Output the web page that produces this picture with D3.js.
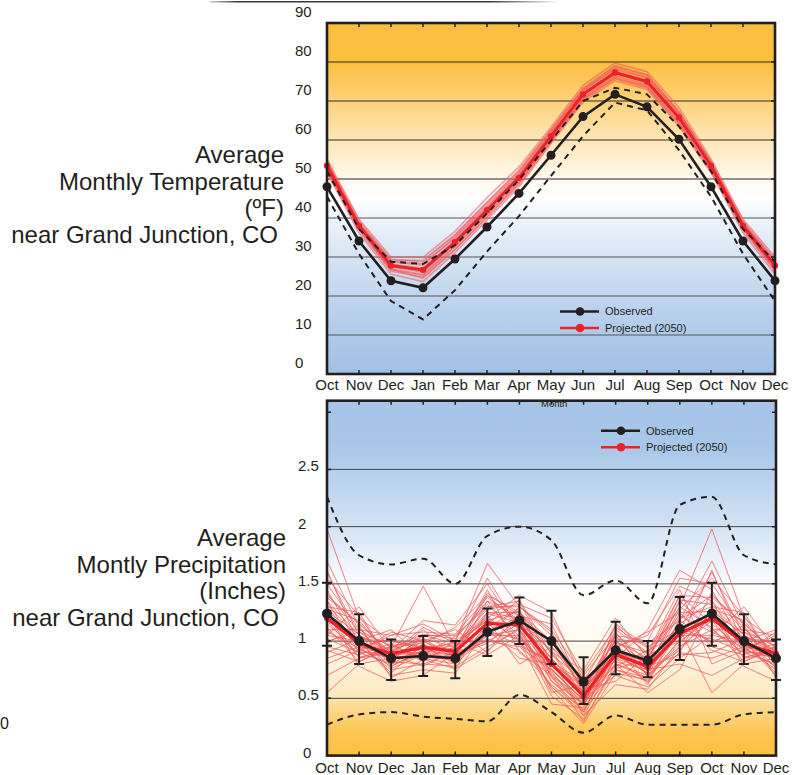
<!DOCTYPE html>
<html>
<head>
<meta charset="utf-8">
<title>Grand Junction temperature and precipitation</title>
<script src="https://d3js.org/d3.v7.min.js"></script>
<style>
  body { margin: 0; background: #fff; font-family: 'Liberation Sans', Arial, Helvetica, sans-serif; }
  svg { display: block; }
</style>
</head>
<body>
<svg></svg>
<script>
var width = 806, height = 775;

// x axis runs Oct .. Dec of the following year (15 points)
var months = ["Oct","Nov","Dec","Jan","Feb","Mar","Apr","May","Jun","Jul","Aug","Sep","Oct","Nov","Dec"];

// monthly values, Oct .. Sep; the chart wraps round to Dec again
var tempObserved  = [48.0, 34.1, 23.9, 22.1, 29.5, 37.7, 46.3, 56.1, 66.0, 71.7, 68.5, 60.2];
var tempUpper     = [52.0, 37.2, 28.8, 28.2, 33.0, 41.2, 49.8, 59.8, 70.0, 73.4, 71.7, 63.5];
var tempLower     = [45.5, 30.8, 18.7, 14.0, 21.5, 31.4, 40.5, 50.8, 61.0, 69.6, 67.6, 57.4];
var tempProjected = [53.4, 38.0, 27.8, 26.7, 33.8, 42.0, 50.3, 61.0, 71.7, 77.3, 75.0, 65.8];
var tempMembers = [
  [54.6, 39.2, 29.4, 28.8, 35.5, 43.9, 52.0, 62.5, 73.0, 78.9, 76.6, 67.4],
  [52.1, 36.9, 26.3, 24.9, 32.0, 40.4, 48.9, 59.8, 70.4, 75.9, 73.6, 64.3],
  [53.9, 38.6, 28.7, 27.9, 35.1, 43.4, 51.6, 62.2, 72.8, 78.1, 75.9, 66.7],
  [52.8, 37.4, 27.0, 25.6, 32.9, 41.2, 49.5, 60.2, 70.9, 76.6, 74.2, 65.0],
  [55.1, 39.7, 30.0, 29.9, 36.6, 45.2, 53.1, 63.3, 74.0, 79.7, 77.5, 68.3],
  [51.6, 36.2, 25.6, 23.7, 31.1, 39.5, 48.0, 59.1, 69.7, 75.2, 73.0, 63.5],
  [53.2, 38.1, 28.2, 27.2, 34.3, 42.6, 50.9, 61.5, 72.1, 77.6, 75.4, 66.1],
  [54.2, 38.8, 28.9, 28.3, 34.8, 42.9, 51.2, 61.8, 72.4, 78.5, 76.1, 66.9],
  [52.5, 37.1, 26.7, 25.3, 32.5, 40.9, 49.2, 60.0, 70.6, 76.2, 73.9, 64.6],
  [53.6, 38.3, 27.5, 26.1, 33.4, 41.6, 50.0, 60.7, 71.4, 77.0, 74.7, 65.5],
  [54.3, 38.5, 29.1, 29.2, 35.8, 44.1, 52.3, 62.7, 73.3, 79.0, 76.8, 67.2],
  [52.3, 37.7, 26.9, 24.5, 31.8, 40.1, 48.6, 59.6, 70.2, 75.7, 73.4, 64.0]
];
var tempTicks = [0, 10, 20, 30, 40, 50, 60, 70, 80, 90];

var precipObserved  = [1.24, 1.00, 0.85, 0.87, 0.85, 1.08, 1.18, 1.00, 0.645, 0.92, 0.83, 1.105];
var precipObsLow    = [0.96, 0.80, 0.66, 0.695, 0.675, 0.87, 0.975, 0.80, 0.45, 0.71, 0.685, 0.835];
var precipObsHigh   = [1.51, 1.235, 1.015, 1.045, 1.00, 1.285, 1.38, 1.265, 0.86, 1.17, 1.00, 1.385];
var precipUpper     = [2.26, 1.75, 1.67, 1.72, 1.50, 1.92, 2.00, 1.88, 1.40, 1.53, 1.33, 2.19];
var precipLower     = [0.27, 0.36, 0.38, 0.34, 0.32, 0.30, 0.53, 0.38, 0.20, 0.35, 0.27, 0.27];
var precipProjected = [1.20, 0.98, 0.89, 0.945, 0.91, 1.155, 1.14, 0.80, 0.52, 0.886, 0.776, 1.067];
var precipMembers = [
  [1.35, 1.05, 0.92, 1.02, 0.95, 1.25, 1.20, 0.85, 0.55, 0.95, 0.80, 1.15],
  [1.10, 0.90, 0.80, 0.88, 0.85, 1.05, 1.05, 0.70, 0.45, 0.80, 0.70, 0.95],
  [1.98, 1.20, 1.00, 0.95, 0.90, 1.40, 1.25, 0.95, 0.60, 1.00, 0.85, 1.30],
  [0.85, 0.95, 0.75, 0.80, 0.78, 0.95, 1.10, 0.65, 0.40, 0.75, 0.65, 0.90],
  [1.50, 1.10, 1.05, 1.15, 1.00, 1.68, 1.30, 1.10, 0.70, 1.05, 1.00, 1.55],
  [1.25, 0.85, 0.95, 1.48, 0.95, 1.20, 1.00, 0.60, 0.35, 0.85, 0.75, 1.05],
  [1.05, 1.00, 0.70, 0.75, 0.72, 1.10, 1.20, 0.90, 0.50, 0.70, 0.60, 0.85],
  [0.55, 0.80, 0.85, 0.90, 0.88, 1.00, 0.95, 0.75, 0.48, 0.90, 0.82, 1.10],
  [1.40, 1.15, 0.90, 1.05, 1.05, 1.30, 1.35, 0.80, 0.55, 1.10, 0.90, 1.20],
  [1.20, 1.00, 1.10, 0.85, 0.80, 1.15, 1.15, 0.55, 0.62, 0.95, 0.70, 1.00],
  [1.15, 0.92, 0.85, 1.00, 1.10, 0.90, 1.25, 1.00, 0.58, 0.65, 0.88, 1.40],
  [1.30, 1.25, 0.80, 0.95, 0.92, 1.45, 0.90, 0.70, 0.30, 0.80, 0.55, 0.75],
  [0.95, 0.88, 0.98, 0.82, 1.00, 1.20, 1.40, 1.25, 0.65, 0.88, 0.72, 1.25],
  [1.60, 1.05, 0.88, 1.10, 0.85, 1.35, 1.00, 0.45, 0.42, 1.15, 0.95, 1.10],
  [1.25, 0.78, 0.65, 0.70, 0.90, 1.00, 1.15, 0.85, 0.52, 0.75, 0.68, 0.98],
  [1.10, 1.10, 0.95, 0.98, 0.75, 1.25, 1.25, 0.90, 0.75, 1.20, 0.85, 1.35],
  [1.45, 0.95, 0.90, 0.90, 1.00, 1.55, 1.10, 0.75, 0.48, 0.85, 1.10, 1.62],
  [0.90, 1.02, 0.82, 1.05, 0.98, 0.88, 1.05, 0.60, 0.38, 0.92, 0.78, 0.88],
  [1.30, 0.95, 1.02, 0.90, 0.82, 1.10, 0.85, 0.80, 0.60, 0.95, 0.62, 1.20],
  [1.05, 1.30, 0.92, 0.85, 0.95, 1.30, 1.30, 1.05, 0.55, 0.78, 0.92, 1.05],
  [1.70, 1.12, 0.78, 0.92, 0.88, 0.98, 1.20, 0.65, 0.45, 1.05, 0.70, 1.18],
  [0.70, 0.85, 0.90, 1.12, 0.98, 1.18, 0.80, 0.95, 0.68, 0.82, 0.75, 0.80],
  [1.18, 1.00, 0.72, 0.98, 1.12, 1.40, 1.15, 0.85, 0.35, 0.62, 0.58, 0.95],
  [1.35, 0.90, 1.08, 1.00, 0.85, 1.12, 1.28, 0.70, 0.50, 0.95, 1.05, 1.48],
  [1.00, 1.08, 0.88, 0.78, 0.92, 1.22, 0.98, 0.80, 0.62, 1.00, 0.80, 1.12],
  [1.28, 1.18, 0.86, 0.96, 0.80, 1.05, 1.10, 0.58, 0.28, 0.72, 0.66, 1.02],
  [1.12, 0.82, 0.94, 1.06, 1.02, 1.35, 1.22, 1.15, 0.58, 0.90, 0.86, 1.30],
  [1.22, 0.98, 0.84, 0.88, 0.86, 1.08, 1.02, 0.78, 0.56, 1.08, 0.74, 0.92],
  [1.08, 0.94, 0.78, 0.92, 0.96, 1.28, 1.32, 1.20, 0.72, 1.12, 0.94, 1.22],
  [1.42, 1.08, 0.96, 0.86, 0.84, 1.02, 0.92, 0.62, 0.40, 0.85, 0.64, 0.90],
  [0.80, 0.92, 1.05, 1.08, 1.06, 1.38, 1.18, 0.72, 0.46, 0.98, 0.90, 1.45],
  [1.55, 1.22, 0.82, 0.80, 0.90, 1.15, 1.36, 0.88, 0.66, 0.90, 0.76, 1.28],
  [1.18, 0.86, 0.92, 1.18, 1.14, 1.50, 1.08, 0.52, 0.32, 0.76, 0.84, 1.08],
  [0.98, 1.14, 0.68, 0.84, 0.76, 0.92, 1.12, 1.02, 0.54, 1.02, 0.98, 1.18],
  [1.32, 1.02, 1.00, 0.94, 0.98, 1.18, 1.26, 0.68, 0.44, 0.88, 0.72, 1.36],
  [1.62, 0.96, 0.86, 1.02, 0.86, 1.10, 0.96, 0.82, 0.64, 1.14, 0.88, 1.00],
  [1.02, 0.90, 0.90, 0.96, 0.92, 1.24, 1.16, 0.92, 0.52, 0.80, 0.68, 1.08],
  [1.26, 1.06, 0.76, 0.88, 1.04, 1.32, 1.04, 0.74, 0.38, 0.94, 1.08, 1.25],
  [0.92, 0.82, 0.96, 1.00, 0.88, 1.06, 1.30, 1.08, 0.60, 0.86, 0.80, 1.16],
  [1.38, 1.16, 0.88, 0.90, 0.94, 1.42, 1.22, 0.76, 0.48, 1.06, 0.82, 1.40]
];
var precipTicks = [0, 0.5, 1, 1.5, 2, 2.5];
var precipGrid  = [0.5, 1, 1.5, 2, 2.5, 3];

// spread a 12 month list over the 15 x positions
function wrap(arr) { return months.map(function (m, i) { return arr[i % 12]; }); }

var ink = "#231f20", red = "#ec2227", redThin = "#f0585b";

var svg = d3.select("svg").attr("width", width).attr("height", height);
var defs = svg.append("defs");

function gradient(id, stops) {
  var g = defs.append("linearGradient").attr("id", id)
    .attr("x1", 0).attr("y1", 0).attr("x2", 0).attr("y2", 1);
  stops.forEach(function (s) {
    g.append("stop").attr("offset", s[0]).attr("stop-color", s[1]);
  });
}
gradient("tempBg", [[0, "#fbbd3d"], [0.11, "#fcc03f"], [0.22, "#fdd17a"], [0.33, "#fee6b5"],
  [0.445, "#fff9ee"], [0.5, "#ffffff"], [0.56, "#edf3fb"], [0.67, "#d5e4f4"],
  [0.78, "#c0d5ee"], [0.89, "#aecae9"], [1, "#a0c0e5"]]);
gradient("precipBg", [[0, "#a5c4e7"], [0.12, "#a7c6e8"], [0.35, "#d2e2f4"], [0.47, "#f0f5fc"],
  [0.53, "#ffffff"], [0.67, "#fefaf1"], [0.83, "#fee9c0"], [0.845, "#fde1a2"],
  [0.93, "#fcc654"], [1, "#fcbf40"]]);

var topLine = defs.append("linearGradient").attr("id", "topLine");
[[0, "#cccccc"], [0.08, "#3a3a3a"], [0.8, "#3a3a3a"], [1, "#ffffff"]].forEach(function (s) {
  topLine.append("stop").attr("offset", s[0]).attr("stop-color", s[1]);
});
svg.append("rect").attr("x", 210).attr("y", 1).attr("width", 350).attr("height", 1.5)
  .attr("fill", "url(#topLine)");

// stray glyph at the left edge
svg.append("text").attr("x", 0).attr("y", 729).attr("font-size", 16).attr("fill", ink).text("0");

// ---------- temperature ----------
var xT = d3.scalePoint().domain(d3.range(months.length)).range([327, 775]);
var yT = d3.scaleLinear().domain([0, 90]).range([374, 23]);

var gT = svg.append("g");
gT.append("rect").attr("x", xT(0)).attr("y", yT(90))
  .attr("width", xT(14) - xT(0)).attr("height", yT(0) - yT(90))
  .attr("fill", "url(#tempBg)");

gT.selectAll(".grid").data(tempTicks.slice(1, -1)).enter().append("line")
  .attr("x1", xT(0)).attr("x2", xT(14))
  .attr("y1", function (d) { return yT(d); }).attr("y2", function (d) { return yT(d); })
  .attr("stroke", function (d) { return d > 45 ? "#2b2b2b" : "#555"; }).attr("stroke-width", 1.1);

var lineT = d3.line().x(function (d, i) { return xT(i); }).y(function (d) { return yT(d); });

gT.selectAll(".member").data(tempMembers).enter().append("path")
  .attr("d", function (d) { return lineT(wrap(d)); })
  .attr("fill", "none").attr("stroke", redThin).attr("stroke-width", 1.5).attr("stroke-opacity", 0.6);

gT.append("path").attr("d", lineT(wrap(tempProjected)))
  .attr("fill", "none").attr("stroke", red).attr("stroke-width", 3);
gT.selectAll(".pdot").data(wrap(tempProjected)).enter().append("circle")
  .attr("cx", function (d, i) { return xT(i); }).attr("cy", function (d) { return yT(d); })
  .attr("r", 3.2).attr("fill", red);

[tempUpper, tempLower].forEach(function (s) {
  gT.append("path").attr("d", lineT(wrap(s)))
    .attr("fill", "none").attr("stroke", ink).attr("stroke-width", 2).attr("stroke-dasharray", "6,5");
});

gT.append("path").attr("d", lineT(wrap(tempObserved)))
  .attr("fill", "none").attr("stroke", ink).attr("stroke-width", 2.6);
gT.selectAll(".odot").data(wrap(tempObserved)).enter().append("circle")
  .attr("cx", function (d, i) { return xT(i); }).attr("cy", function (d) { return yT(d); })
  .attr("r", 4.5).attr("fill", ink);

// frame and ticks
gT.append("rect").attr("x", xT(0)).attr("y", yT(90))
  .attr("width", xT(14) - xT(0)).attr("height", yT(0) - yT(90))
  .attr("fill", "none").attr("stroke", ink).attr("stroke-width", 2.6);
gT.selectAll(".ttick").data(d3.range(1, 14)).enter().append("path")
  .attr("d", function (i) {
    return "M" + xT(i) + "," + yT(90) + "v4M" + xT(i) + "," + yT(0) + "v-4";
  })
  .attr("stroke", ink).attr("stroke-width", 1.5);
gT.selectAll(".rtick").data(tempTicks.slice(1, -1)).enter().append("path")
  .attr("d", function (d) { return "M" + xT(14) + "," + yT(d) + "h-4"; })
  .attr("stroke", ink).attr("stroke-width", 1.5);

gT.selectAll(".ylab").data(tempTicks).enter().append("text")
  .attr("x", 295).attr("y", function (d) { return yT(d) - 6; })
  .attr("font-size", 15).attr("fill", ink).text(function (d) { return d; });
gT.selectAll(".xlab").data(months).enter().append("text")
  .attr("x", function (d, i) { return xT(i); }).attr("y", 390)
  .attr("text-anchor", "middle").attr("font-size", 15).attr("fill", ink)
  .text(function (d) { return d; });

// legend
function legend(g, x, y0, y1) {
  [[y0, ink, "Observed"], [y1, red, "Projected (2050)"]].forEach(function (r) {
    g.append("line").attr("x1", x).attr("x2", x + 39).attr("y1", r[0]).attr("y2", r[0])
      .attr("stroke", r[1]).attr("stroke-width", 2.5);
    g.append("circle").attr("cx", x + 20).attr("cy", r[0]).attr("r", 4.3).attr("fill", r[1]);
    g.append("text").attr("x", x + 45).attr("y", r[0]).attr("dy", "0.35em")
      .attr("font-size", 11).attr("fill", ink).text(r[2]);
  });
}
legend(gT, 560, 311.5, 328);

var titleLines = function (lines, xRight, yFirst) {
  svg.append("text").attr("text-anchor", "end").attr("font-size", 24).attr("fill", ink)
    .selectAll("tspan").data(lines).enter().append("tspan")
    .attr("x", function (d) { return xRight - (d.pad || 0); })
    .attr("y", function (d, i) { return yFirst + i * 26.5; })
    .text(function (d) { return d.t; });
};
titleLines([{t: "Average"}, {t: "Monthly Temperature"}, {t: "(ºF)"}, {t: "near Grand Junction, CO", pad: 6}], 284, 163);

// ---------- precipitation ----------
var xP = d3.scalePoint().domain(d3.range(months.length)).range([327, 776]);
var yP = d3.scaleLinear().domain([0, 3.1]).range([755.6, 400.7]);

var gP = svg.append("g");
gP.append("rect").attr("x", xP(0)).attr("y", yP(3.1))
  .attr("width", xP(14) - xP(0)).attr("height", yP(0) - yP(3.1))
  .attr("fill", "url(#precipBg)");

gP.selectAll(".grid").data(precipTicks.slice(1)).enter().append("line")
  .attr("x1", xP(0)).attr("x2", xP(14))
  .attr("y1", function (d) { return yP(d); }).attr("y2", function (d) { return yP(d); })
  .attr("stroke", "#444").attr("stroke-width", 1);

var lineP = d3.line().x(function (d, i) { return xP(i); }).y(function (d) { return yP(d); });
var curveP = d3.line().curve(d3.curveMonotoneX)
  .x(function (d, i) { return xP(i); }).y(function (d) { return yP(d); });

[precipUpper, precipLower].forEach(function (s) {
  gP.append("path").attr("d", curveP(wrap(s)))
    .attr("fill", "none").attr("stroke", ink).attr("stroke-width", 2).attr("stroke-dasharray", "6,5");
});

gP.selectAll(".member").data(precipMembers).enter().append("path")
  .attr("d", function (d) { return lineP(wrap(d)); })
  .attr("fill", "none").attr("stroke", redThin).attr("stroke-width", 0.9).attr("stroke-opacity", 0.85);

gP.append("path").attr("d", lineP(wrap(precipProjected)))
  .attr("fill", "none").attr("stroke", red).attr("stroke-width", 3.2);
gP.selectAll(".pdot").data(wrap(precipProjected)).enter().append("circle")
  .attr("cx", function (d, i) { return xP(i); }).attr("cy", function (d) { return yP(d); })
  .attr("r", 3).attr("fill", red);

var obsLow = wrap(precipObsLow), obsHigh = wrap(precipObsHigh);
gP.selectAll(".err").data(wrap(precipObserved)).enter().append("path")
  .attr("d", function (d, i) {
    var x = xP(i), lo = yP(obsLow[i]), hi = yP(obsHigh[i]);
    return "M" + x + "," + lo + "V" + hi + "M" + (x - 5) + "," + hi + "h10M" + (x - 5) + "," + lo + "h10";
  })
  .attr("fill", "none").attr("stroke", ink).attr("stroke-width", 2);

gP.append("path").attr("d", lineP(wrap(precipObserved)))
  .attr("fill", "none").attr("stroke", ink).attr("stroke-width", 2.6);
gP.selectAll(".odot").data(wrap(precipObserved)).enter().append("circle")
  .attr("cx", function (d, i) { return xP(i); }).attr("cy", function (d) { return yP(d); })
  .attr("r", 5).attr("fill", ink);

gP.append("rect").attr("x", xP(0)).attr("y", yP(3.1))
  .attr("width", xP(14) - xP(0)).attr("height", yP(0) - yP(3.1))
  .attr("fill", "none").attr("stroke", ink).attr("stroke-width", 2.6);
gP.selectAll(".ttick").data(d3.range(1, 14)).enter().append("path")
  .attr("d", function (i) {
    return "M" + xP(i) + "," + yP(3.1) + "v4M" + xP(i) + "," + yP(0) + "v-4";
  })
  .attr("stroke", ink).attr("stroke-width", 1.5);
gP.selectAll(".rtick").data(precipGrid).enter().append("path")
  .attr("d", function (d) { return "M" + xP(14) + "," + yP(d) + "h-4M" + xP(0) + "," + yP(d) + "h4"; })
  .attr("stroke", ink).attr("stroke-width", 1.5);

gP.selectAll(".ylab").data(precipTicks).enter().append("text")
  .attr("x", function (d) { return d === 0 ? 303 : 298; }).attr("y", function (d) { return yP(d) + 2; })
  .attr("font-size", 15).attr("fill", ink).text(function (d) { return d; });
gP.selectAll(".xlab").data(months).enter().append("text")
  .attr("x", function (d, i) { return xP(i); }).attr("y", 773)
  .attr("text-anchor", "middle").attr("font-size", 15).attr("fill", ink)
  .text(function (d) { return d; });

legend(gP, 601, 430.7, 447.3);

titleLines([{t: "Average"}, {t: "Montly Precipitation"}, {t: "(Inches)"}, {t: "near Grand Junction, CO", pad: 7}], 286, 546);

// axis title of the upper chart, sitting on the lower chart's frame
svg.append("text").attr("x", 541).attr("y", 407).attr("font-size", 9.5).attr("fill", ink).text("Month");
</script>
</body>
</html>
